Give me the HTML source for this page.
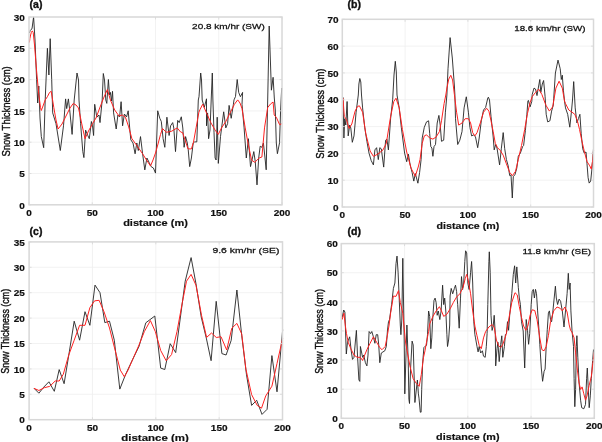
<!DOCTYPE html>
<html><head><meta charset="utf-8"><style>
html,body{margin:0;padding:0;background:#fff;width:602px;height:442px;overflow:hidden}
svg{display:block;will-change:transform}
text{font-family:"Liberation Sans",sans-serif;fill:#111}
</style></head><body>
<svg width="602" height="442" viewBox="0 0 602 442">
<line x1="92.25" y1="17.00" x2="92.25" y2="204.80" stroke="#efefef" stroke-width="0.8"/>
<line x1="155.50" y1="17.00" x2="155.50" y2="204.80" stroke="#efefef" stroke-width="0.8"/>
<line x1="218.75" y1="17.00" x2="218.75" y2="204.80" stroke="#efefef" stroke-width="0.8"/>
<line x1="29.00" y1="173.50" x2="282.00" y2="173.50" stroke="#efefef" stroke-width="0.8"/>
<line x1="29.00" y1="142.20" x2="282.00" y2="142.20" stroke="#efefef" stroke-width="0.8"/>
<line x1="29.00" y1="110.90" x2="282.00" y2="110.90" stroke="#efefef" stroke-width="0.8"/>
<line x1="29.00" y1="79.60" x2="282.00" y2="79.60" stroke="#efefef" stroke-width="0.8"/>
<line x1="29.00" y1="48.30" x2="282.00" y2="48.30" stroke="#efefef" stroke-width="0.8"/>
<polyline points="29.4,33.0 30.2,30.5 31.0,29.5 32.0,28.8 33.6,16.9 35.0,40.0 36.6,79.5 37.7,103.0 38.8,86.0 40.0,118.0 41.3,136.6 43.7,147.7 45.2,100.0 47.4,48.3 48.9,75.0 50.2,38.7 51.7,79.5 52.7,112.9 56.0,123.7 60.3,150.5 63.5,125.8 65.6,98.9 66.7,108.6 68.4,98.9 70.0,113.0 72.1,134.4 74.2,100.0 77.0,73.0 78.5,80.0 79.0,100.0 80.6,123.7 82.8,151.6 83.9,157.6 85.6,130.1 87.8,135.5 89.3,138.7 91.4,121.5 92.5,125.8 93.6,135.5 94.7,104.3 96.8,117.2 99.0,115.0 100.0,122.6 102.2,100.0 103.3,73.5 104.5,80.0 105.8,100.0 106.8,103.4 108.4,79.5 109.5,95.0 110.4,92.4 111.5,101.0 112.5,91.3 113.6,112.9 116.2,129.0 117.9,115.0 119.6,117.0 121.1,101.7 122.6,125.8 124.4,114.0 126.5,117.0 128.2,110.8 129.7,128.0 130.8,139.8 133.0,143.0 135.1,153.8 136.8,143.0 138.3,150.5 140.5,136.6 142.6,153.8 144.8,169.9 146.9,158.0 149.1,162.4 151.2,166.7 153.4,168.0 155.5,173.1 157.7,110.8 159.8,118.3 161.3,121.5 163.1,138.7 164.8,147.3 166.9,117.2 169.1,135.5 170.6,125.8 172.7,122.6 173.8,128.0 175.5,151.6 177.7,120.4 179.2,122.6 181.3,116.8 182.8,128.0 184.1,147.3 185.6,136.6 187.3,143.0 188.2,149.4 189.7,166.6 191.4,158.0 193.2,143.0 194.7,141.9 196.8,141.9 198.3,100.0 199.0,96.7 200.7,73.0 201.5,80.0 202.2,100.0 204.3,107.4 206.5,98.8 206.5,125.8 207.6,112.9 208.6,138.7 210.0,130.0 211.2,100.0 212.3,73.0 212.9,100.0 214.0,132.2 215.1,158.0 216.1,160.0 217.2,117.2 218.3,163.4 220.5,136.5 223.7,111.8 225.8,127.9 227.6,123.6 229.1,105.4 231.2,118.3 233.4,104.3 234.0,99.9 235.5,96.5 237.2,79.5 238.7,92.4 240.4,96.7 242.6,92.4 242.0,104.3 244.1,127.9 246.3,158.0 248.4,138.7 250.5,166.6 252.0,160.0 253.8,151.6 255.3,162.0 257.0,184.9 258.7,158.0 260.2,146.2 261.9,147.3 263.4,143.0 265.0,158.0 266.2,169.8 267.7,100.0 269.2,26.0 270.5,64.0 271.4,90.2 273.1,77.3 274.3,98.0 275.3,110.0 276.3,143.0 277.4,153.7 279.5,143.0 280.6,110.7 281.7,88.0" fill="none" stroke="#242424" stroke-width="0.9" stroke-linejoin="round"/>
<polyline points="29.4,42.5 29.9,38.5 30.6,35.0 31.4,32.3 32.3,30.9 33.2,32.5 34.5,45.0 36.6,70.9 38.8,94.6 40.5,107.5 41.3,110.5 43.0,106.0 45.2,100.0 47.4,96.7 49.5,92.5 51.2,91.3 53.8,107.5 56.0,120.0 58.1,129.0 62.0,124.0 66.0,116.0 70.0,108.0 73.2,103.5 76.0,105.0 78.5,108.0 82.0,125.0 85.0,138.7 88.5,131.0 92.5,123.7 96.0,118.0 101.1,104.3 104.0,97.0 107.4,89.5 110.4,100.0 114.7,110.0 119.0,116.0 122.2,115.0 125.4,117.2 128.7,126.9 131.9,138.7 137.3,146.2 142.6,153.8 146.5,160.0 150.5,166.0 153.0,160.0 155.5,153.0 158.0,144.0 160.5,134.5 162.5,128.5 166.3,132.3 171.7,131.2 177.2,127.9 180.6,132.0 182.6,132.6 185.3,140.8 188.0,148.9 191.4,148.9 193.5,142.1 196.2,127.2 198.9,112.2 200.0,109.6 202.7,104.2 206.5,112.9 210.8,122.6 215.1,130.1 218.3,134.4 221.5,127.9 225.8,121.5 230.1,112.9 234.4,104.3 237.7,99.9 240.0,103.0 242.0,108.6 245.2,127.9 248.4,145.1 251.6,160.2 254.8,162.3 259.1,158.0 261.9,157.0 264.5,127.9 267.7,107.5 270.5,104.0 273.1,102.0 274.2,115.0 276.3,117.2 279.6,124.7 282.0,123.6" fill="none" stroke="#ff2020" stroke-width="1.0" stroke-linejoin="round"/>
<rect x="29.00" y="17.00" width="253.00" height="187.80" fill="none" stroke="#d8d8d8" stroke-width="1.5"/>
<line x1="29.00" y1="204.80" x2="29.00" y2="202.30" stroke="#d8d8d8" stroke-width="0.8"/>
<line x1="29.00" y1="17.00" x2="29.00" y2="19.50" stroke="#d8d8d8" stroke-width="0.8"/>
<text transform="translate(29.00,215.80) scale(1.0,0.92)" font-size="10.0" font-weight="bold" text-anchor="middle" stroke="#111" stroke-width="0.2">0</text>
<line x1="92.25" y1="204.80" x2="92.25" y2="202.30" stroke="#d8d8d8" stroke-width="0.8"/>
<line x1="92.25" y1="17.00" x2="92.25" y2="19.50" stroke="#d8d8d8" stroke-width="0.8"/>
<text transform="translate(92.25,215.80) scale(1.0,0.92)" font-size="10.0" font-weight="bold" text-anchor="middle" stroke="#111" stroke-width="0.2">50</text>
<line x1="155.50" y1="204.80" x2="155.50" y2="202.30" stroke="#d8d8d8" stroke-width="0.8"/>
<line x1="155.50" y1="17.00" x2="155.50" y2="19.50" stroke="#d8d8d8" stroke-width="0.8"/>
<text transform="translate(155.50,215.80) scale(1.0,0.92)" font-size="10.0" font-weight="bold" text-anchor="middle" stroke="#111" stroke-width="0.2">100</text>
<line x1="218.75" y1="204.80" x2="218.75" y2="202.30" stroke="#d8d8d8" stroke-width="0.8"/>
<line x1="218.75" y1="17.00" x2="218.75" y2="19.50" stroke="#d8d8d8" stroke-width="0.8"/>
<text transform="translate(218.75,215.80) scale(1.0,0.92)" font-size="10.0" font-weight="bold" text-anchor="middle" stroke="#111" stroke-width="0.2">150</text>
<line x1="282.00" y1="204.80" x2="282.00" y2="202.30" stroke="#d8d8d8" stroke-width="0.8"/>
<line x1="282.00" y1="17.00" x2="282.00" y2="19.50" stroke="#d8d8d8" stroke-width="0.8"/>
<text transform="translate(282.00,215.80) scale(1.0,0.92)" font-size="10.0" font-weight="bold" text-anchor="middle" stroke="#111" stroke-width="0.2">200</text>
<line x1="29.00" y1="204.80" x2="31.50" y2="204.80" stroke="#d8d8d8" stroke-width="0.8"/>
<line x1="282.00" y1="204.80" x2="279.50" y2="204.80" stroke="#d8d8d8" stroke-width="0.8"/>
<text transform="translate(24.80,208.50) scale(1.0,0.92)" font-size="10.0" font-weight="bold" text-anchor="end" stroke="#111" stroke-width="0.2">0</text>
<line x1="29.00" y1="173.50" x2="31.50" y2="173.50" stroke="#d8d8d8" stroke-width="0.8"/>
<line x1="282.00" y1="173.50" x2="279.50" y2="173.50" stroke="#d8d8d8" stroke-width="0.8"/>
<text transform="translate(24.80,177.20) scale(1.0,0.92)" font-size="10.0" font-weight="bold" text-anchor="end" stroke="#111" stroke-width="0.2">5</text>
<line x1="29.00" y1="142.20" x2="31.50" y2="142.20" stroke="#d8d8d8" stroke-width="0.8"/>
<line x1="282.00" y1="142.20" x2="279.50" y2="142.20" stroke="#d8d8d8" stroke-width="0.8"/>
<text transform="translate(24.80,145.90) scale(1.0,0.92)" font-size="10.0" font-weight="bold" text-anchor="end" stroke="#111" stroke-width="0.2">10</text>
<line x1="29.00" y1="110.90" x2="31.50" y2="110.90" stroke="#d8d8d8" stroke-width="0.8"/>
<line x1="282.00" y1="110.90" x2="279.50" y2="110.90" stroke="#d8d8d8" stroke-width="0.8"/>
<text transform="translate(24.80,114.60) scale(1.0,0.92)" font-size="10.0" font-weight="bold" text-anchor="end" stroke="#111" stroke-width="0.2">15</text>
<line x1="29.00" y1="79.60" x2="31.50" y2="79.60" stroke="#d8d8d8" stroke-width="0.8"/>
<line x1="282.00" y1="79.60" x2="279.50" y2="79.60" stroke="#d8d8d8" stroke-width="0.8"/>
<text transform="translate(24.80,83.30) scale(1.0,0.92)" font-size="10.0" font-weight="bold" text-anchor="end" stroke="#111" stroke-width="0.2">20</text>
<line x1="29.00" y1="48.30" x2="31.50" y2="48.30" stroke="#d8d8d8" stroke-width="0.8"/>
<line x1="282.00" y1="48.30" x2="279.50" y2="48.30" stroke="#d8d8d8" stroke-width="0.8"/>
<text transform="translate(24.80,52.00) scale(1.0,0.92)" font-size="10.0" font-weight="bold" text-anchor="end" stroke="#111" stroke-width="0.2">25</text>
<line x1="29.00" y1="17.00" x2="31.50" y2="17.00" stroke="#d8d8d8" stroke-width="0.8"/>
<line x1="282.00" y1="17.00" x2="279.50" y2="17.00" stroke="#d8d8d8" stroke-width="0.8"/>
<text transform="translate(24.80,20.70) scale(1.0,0.92)" font-size="10.0" font-weight="bold" text-anchor="end" stroke="#111" stroke-width="0.2">30</text>
<text transform="translate(155.50,226.10) scale(1.0,0.78)" font-size="11.0" font-weight="bold" text-anchor="middle" stroke="#111" stroke-width="0.2">distance (m)</text>
<text transform="translate(10.20,111.40) scale(1.05,0.86) rotate(-90)" font-size="11.0" font-weight="normal" text-anchor="middle" stroke="#111" stroke-width="0.4">Snow Thickness (cm)</text>
<text transform="translate(29.60,7.80) scale(1.0,1.0)" font-size="10.5" font-weight="bold" text-anchor="start" stroke="#111" stroke-width="0.35">(a)</text>
<text transform="translate(264.80,28.60) scale(1.0,0.8)" font-size="10.0" font-weight="normal" text-anchor="end" stroke="#111" stroke-width="0.32">20.8 km/hr (SW)</text>
<line x1="405.10" y1="19.30" x2="405.10" y2="207.00" stroke="#efefef" stroke-width="0.8"/>
<line x1="467.90" y1="19.30" x2="467.90" y2="207.00" stroke="#efefef" stroke-width="0.8"/>
<line x1="530.70" y1="19.30" x2="530.70" y2="207.00" stroke="#efefef" stroke-width="0.8"/>
<line x1="342.30" y1="180.19" x2="593.50" y2="180.19" stroke="#efefef" stroke-width="0.8"/>
<line x1="342.30" y1="153.37" x2="593.50" y2="153.37" stroke="#efefef" stroke-width="0.8"/>
<line x1="342.30" y1="126.56" x2="593.50" y2="126.56" stroke="#efefef" stroke-width="0.8"/>
<line x1="342.30" y1="99.74" x2="593.50" y2="99.74" stroke="#efefef" stroke-width="0.8"/>
<line x1="342.30" y1="72.93" x2="593.50" y2="72.93" stroke="#efefef" stroke-width="0.8"/>
<line x1="342.30" y1="46.11" x2="593.50" y2="46.11" stroke="#efefef" stroke-width="0.8"/>
<polyline points="343.0,97.2 343.9,138.0 344.7,118.7 345.8,125.0 347.1,101.5 348.2,135.9 349.7,125.1 350.8,128.0 352.3,142.3 354.0,135.9 356.1,112.2 358.3,95.0 358.9,84.0 359.8,78.5 360.8,82.0 361.5,95.0 362.6,107.9 364.7,127.3 366.9,141.3 369.0,153.1 371.2,160.6 373.4,164.9 374.9,149.9 376.6,147.7 378.3,159.6 379.8,147.7 381.3,148.8 383.7,167.1 385.6,140.2 386.9,139.1 388.4,149.9 390.6,118.7 392.7,99.3 394.0,75.0 395.3,61.3 396.3,72.0 397.0,95.0 399.2,107.9 401.3,127.3 404.6,153.1 406.7,161.7 408.4,154.2 410.0,164.0 412.1,172.5 413.8,181.1 415.3,173.5 417.9,183.2 419.6,172.5 421.1,159.6 422.2,138.0 424.3,127.3 426.5,121.9 428.6,120.8 429.7,133.7 430.8,146.6 431.9,148.0 432.9,156.3 434.0,146.6 435.5,144.5 437.2,123.0 438.9,115.4 440.2,125.0 441.5,141.3 443.7,140.2 445.4,112.2 446.9,95.0 448.0,68.8 450.1,37.6 452.3,58.0 454.4,86.0 454.9,95.0 455.5,118.7 457.7,144.5 459.8,140.2 462.0,131.6 464.1,107.9 466.3,96.8 468.4,112.2 469.9,127.3 471.6,135.9 473.8,134.8 475.5,137.0 477.7,147.7 479.2,138.0 481.3,120.8 483.5,110.1 485.6,107.5 487.8,98.0 488.4,97.2 489.5,100.0 491.0,116.5 493.2,137.0 494.2,149.9 495.7,144.5 497.0,148.0 499.6,164.9 501.3,148.8 503.2,132.6 504.7,148.7 506.4,159.5 508.2,165.9 509.7,175.6 511.0,175.0 512.3,198.0 513.3,176.7 515.0,174.5 516.8,168.1 518.3,156.3 520.4,153.0 522.6,146.6 523.6,145.5 525.4,130.5 526.9,114.3 527.9,101.0 528.4,100.4 530.1,106.8 531.8,101.4 532.2,94.5 534.0,88.1 535.5,89.0 537.0,95.6 538.3,88.0 539.8,79.5 540.8,92.4 542.3,84.0 543.6,80.5 545.1,96.7 546.2,114.3 547.7,121.9 549.9,120.8 551.6,111.1 553.3,105.0 553.7,98.8 555.4,73.0 558.0,60.1 560.2,68.7 561.3,79.5 562.3,75.2 563.4,90.2 564.5,101.0 565.5,107.9 567.7,114.3 569.8,127.2 571.6,110.0 572.5,100.0 573.7,81.6 575.2,107.9 576.9,122.9 578.4,118.6 579.9,114.3 581.2,133.7 582.7,148.7 584.2,153.0 586.0,152.0 587.0,163.8 588.1,177.7 589.2,183.1 590.7,181.0 592.0,168.1 593.5,148.7" fill="none" stroke="#242424" stroke-width="0.9" stroke-linejoin="round"/>
<polyline points="343.0,98.0 344.3,116.5 346.5,119.7 349.0,128.4 351.8,124.0 355.1,111.1 357.5,106.5 359.4,105.8 362.6,112.2 365.8,133.7 370.1,151.0 373.4,156.3 377.7,154.2 383.0,149.9 386.3,143.4 390.6,116.5 393.8,101.5 396.0,98.2 399.2,107.9 402.4,129.4 406.7,152.0 411.0,168.2 415.3,176.3 418.5,166.0 420.0,159.6 422.2,143.4 424.3,135.9 426.5,134.8 429.7,138.0 432.9,139.1 436.1,137.0 439.4,131.6 441.5,120.8 444.1,103.6 445.8,95.0 446.9,88.0 448.8,79.0 450.8,75.3 452.6,80.0 454.4,94.6 456.6,112.2 458.7,125.1 462.0,123.0 465.2,118.7 468.4,118.7 470.6,123.0 472.7,132.7 474.9,135.9 477.0,132.7 480.3,123.0 483.5,112.2 486.7,108.3 488.9,111.1 491.0,120.8 493.2,131.6 495.3,143.4 497.5,147.7 500.3,150.5 503.2,155.2 506.4,163.8 509.7,172.4 512.5,175.6 515.5,171.3 518.3,159.5 521.5,145.5 524.7,129.4 527.5,113.3 530.1,102.5 532.2,96.7 535.5,92.4 538.7,89.1 541.9,94.5 545.1,103.1 546.2,105.7 549.4,111.1 552.7,106.8 555.9,88.1 559.1,81.2 562.3,88.1 564.5,101.0 565.5,103.6 568.8,110.0 572.0,112.2 574.8,114.3 577.4,120.8 579.5,129.4 581.7,140.1 584.2,150.9 587.0,161.6 589.8,165.9 591.3,169.1 592.8,159.5 593.6,150.0" fill="none" stroke="#ff2020" stroke-width="1.0" stroke-linejoin="round"/>
<rect x="342.30" y="19.30" width="251.20" height="187.70" fill="none" stroke="#d8d8d8" stroke-width="1.5"/>
<line x1="342.30" y1="207.00" x2="342.30" y2="204.50" stroke="#d8d8d8" stroke-width="0.8"/>
<line x1="342.30" y1="19.30" x2="342.30" y2="21.80" stroke="#d8d8d8" stroke-width="0.8"/>
<text transform="translate(342.30,218.00) scale(1.0,0.92)" font-size="10.0" font-weight="bold" text-anchor="middle" stroke="#111" stroke-width="0.2">0</text>
<line x1="405.10" y1="207.00" x2="405.10" y2="204.50" stroke="#d8d8d8" stroke-width="0.8"/>
<line x1="405.10" y1="19.30" x2="405.10" y2="21.80" stroke="#d8d8d8" stroke-width="0.8"/>
<text transform="translate(405.10,218.00) scale(1.0,0.92)" font-size="10.0" font-weight="bold" text-anchor="middle" stroke="#111" stroke-width="0.2">50</text>
<line x1="467.90" y1="207.00" x2="467.90" y2="204.50" stroke="#d8d8d8" stroke-width="0.8"/>
<line x1="467.90" y1="19.30" x2="467.90" y2="21.80" stroke="#d8d8d8" stroke-width="0.8"/>
<text transform="translate(467.90,218.00) scale(1.0,0.92)" font-size="10.0" font-weight="bold" text-anchor="middle" stroke="#111" stroke-width="0.2">100</text>
<line x1="530.70" y1="207.00" x2="530.70" y2="204.50" stroke="#d8d8d8" stroke-width="0.8"/>
<line x1="530.70" y1="19.30" x2="530.70" y2="21.80" stroke="#d8d8d8" stroke-width="0.8"/>
<text transform="translate(530.70,218.00) scale(1.0,0.92)" font-size="10.0" font-weight="bold" text-anchor="middle" stroke="#111" stroke-width="0.2">150</text>
<line x1="593.50" y1="207.00" x2="593.50" y2="204.50" stroke="#d8d8d8" stroke-width="0.8"/>
<line x1="593.50" y1="19.30" x2="593.50" y2="21.80" stroke="#d8d8d8" stroke-width="0.8"/>
<text transform="translate(593.50,218.00) scale(1.0,0.92)" font-size="10.0" font-weight="bold" text-anchor="middle" stroke="#111" stroke-width="0.2">200</text>
<line x1="342.30" y1="207.00" x2="344.80" y2="207.00" stroke="#d8d8d8" stroke-width="0.8"/>
<line x1="593.50" y1="207.00" x2="591.00" y2="207.00" stroke="#d8d8d8" stroke-width="0.8"/>
<text transform="translate(338.50,210.70) scale(1.0,0.92)" font-size="10.0" font-weight="bold" text-anchor="end" stroke="#111" stroke-width="0.2">0</text>
<line x1="342.30" y1="180.19" x2="344.80" y2="180.19" stroke="#d8d8d8" stroke-width="0.8"/>
<line x1="593.50" y1="180.19" x2="591.00" y2="180.19" stroke="#d8d8d8" stroke-width="0.8"/>
<text transform="translate(338.50,183.89) scale(1.0,0.92)" font-size="10.0" font-weight="bold" text-anchor="end" stroke="#111" stroke-width="0.2">10</text>
<line x1="342.30" y1="153.37" x2="344.80" y2="153.37" stroke="#d8d8d8" stroke-width="0.8"/>
<line x1="593.50" y1="153.37" x2="591.00" y2="153.37" stroke="#d8d8d8" stroke-width="0.8"/>
<text transform="translate(338.50,157.07) scale(1.0,0.92)" font-size="10.0" font-weight="bold" text-anchor="end" stroke="#111" stroke-width="0.2">20</text>
<line x1="342.30" y1="126.56" x2="344.80" y2="126.56" stroke="#d8d8d8" stroke-width="0.8"/>
<line x1="593.50" y1="126.56" x2="591.00" y2="126.56" stroke="#d8d8d8" stroke-width="0.8"/>
<text transform="translate(338.50,130.26) scale(1.0,0.92)" font-size="10.0" font-weight="bold" text-anchor="end" stroke="#111" stroke-width="0.2">30</text>
<line x1="342.30" y1="99.74" x2="344.80" y2="99.74" stroke="#d8d8d8" stroke-width="0.8"/>
<line x1="593.50" y1="99.74" x2="591.00" y2="99.74" stroke="#d8d8d8" stroke-width="0.8"/>
<text transform="translate(338.50,103.44) scale(1.0,0.92)" font-size="10.0" font-weight="bold" text-anchor="end" stroke="#111" stroke-width="0.2">40</text>
<line x1="342.30" y1="72.93" x2="344.80" y2="72.93" stroke="#d8d8d8" stroke-width="0.8"/>
<line x1="593.50" y1="72.93" x2="591.00" y2="72.93" stroke="#d8d8d8" stroke-width="0.8"/>
<text transform="translate(338.50,76.63) scale(1.0,0.92)" font-size="10.0" font-weight="bold" text-anchor="end" stroke="#111" stroke-width="0.2">50</text>
<line x1="342.30" y1="46.11" x2="344.80" y2="46.11" stroke="#d8d8d8" stroke-width="0.8"/>
<line x1="593.50" y1="46.11" x2="591.00" y2="46.11" stroke="#d8d8d8" stroke-width="0.8"/>
<text transform="translate(338.50,49.81) scale(1.0,0.92)" font-size="10.0" font-weight="bold" text-anchor="end" stroke="#111" stroke-width="0.2">60</text>
<line x1="342.30" y1="19.30" x2="344.80" y2="19.30" stroke="#d8d8d8" stroke-width="0.8"/>
<line x1="593.50" y1="19.30" x2="591.00" y2="19.30" stroke="#d8d8d8" stroke-width="0.8"/>
<text transform="translate(338.50,23.00) scale(1.0,0.92)" font-size="10.0" font-weight="bold" text-anchor="end" stroke="#111" stroke-width="0.2">70</text>
<text transform="translate(467.90,229.00) scale(0.97,0.78)" font-size="11.0" font-weight="bold" text-anchor="middle" stroke="#111" stroke-width="0.2">distance (m)</text>
<text transform="translate(323.70,113.65) scale(1.05,0.86) rotate(-90)" font-size="11.0" font-weight="normal" text-anchor="middle" stroke="#111" stroke-width="0.4">Snow Thickness (cm)</text>
<text transform="translate(347.60,7.80) scale(1.0,1.0)" font-size="10.5" font-weight="bold" text-anchor="start" stroke="#111" stroke-width="0.35">(b)</text>
<text transform="translate(585.50,30.60) scale(0.98,0.8)" font-size="10.0" font-weight="normal" text-anchor="end" stroke="#111" stroke-width="0.32">18.6 km/hr (SW)</text>
<line x1="92.45" y1="241.90" x2="92.45" y2="419.70" stroke="#efefef" stroke-width="0.8"/>
<line x1="155.80" y1="241.90" x2="155.80" y2="419.70" stroke="#efefef" stroke-width="0.8"/>
<line x1="219.15" y1="241.90" x2="219.15" y2="419.70" stroke="#efefef" stroke-width="0.8"/>
<line x1="29.10" y1="394.30" x2="282.50" y2="394.30" stroke="#efefef" stroke-width="0.8"/>
<line x1="29.10" y1="368.90" x2="282.50" y2="368.90" stroke="#efefef" stroke-width="0.8"/>
<line x1="29.10" y1="343.50" x2="282.50" y2="343.50" stroke="#efefef" stroke-width="0.8"/>
<line x1="29.10" y1="318.10" x2="282.50" y2="318.10" stroke="#efefef" stroke-width="0.8"/>
<line x1="29.10" y1="292.70" x2="282.50" y2="292.70" stroke="#efefef" stroke-width="0.8"/>
<line x1="29.10" y1="267.30" x2="282.50" y2="267.30" stroke="#efefef" stroke-width="0.8"/>
<polyline points="34.0,388.3 38.9,393.2 43.7,387.2 48.9,381.8 54.3,391.3 59.2,369.6 64.1,383.7 69.3,351.9 74.2,321.2 79.6,340.2 85.0,311.7 89.9,325.3 95.0,285.1 100.0,292.7 104.8,322.6 109.5,321.2 114.3,340.2 119.8,389.1 125.7,374.2 132.4,360.0 139.0,346.4 145.8,322.8 154.8,316.0 160.7,368.1 164.8,369.5 170.2,343.7 175.7,352.6 185.2,281.2 191.1,257.6 196.0,283.9 201.2,316.9 206.3,338.1 211.1,360.7 216.2,301.3 221.9,353.6 226.1,355.0 231.2,340.3 236.9,290.0 241.7,335.2 246.5,374.8 251.6,405.4 256.7,400.3 262.0,414.4 267.1,409.3 271.9,355.6 277.0,391.8 282.7,329.6" fill="none" stroke="#242424" stroke-width="0.9" stroke-linejoin="round"/>
<polyline points="34.0,388.3 38.9,390.5 44.3,387.7 49.7,386.4 55.2,381.0 59.2,381.0 63.3,374.2 68.7,355.2 74.2,340.2 79.6,325.3 85.0,325.3 89.9,307.6 94.5,300.9 99.1,300.3 104.0,311.7 109.5,328.0 114.3,347.0 120.3,370.1 124.4,376.9 128.1,370.0 133.5,357.5 139.0,345.0 144.4,331.5 150.4,320.6 155.3,331.5 160.7,350.5 166.2,360.8 171.6,354.5 177.0,331.5 182.5,301.6 186.5,281.2 191.1,274.4 196.0,285.3 201.5,315.2 206.6,337.4 211.5,333.0 216.3,337.5 221.0,336.7 226.7,350.0 231.8,328.2 236.9,323.4 241.7,333.8 245.9,369.2 251.6,394.6 257.2,405.4 261.5,408.2 265.7,396.0 271.9,386.2 277.0,363.5 282.7,338.1" fill="none" stroke="#ff2020" stroke-width="1.0" stroke-linejoin="round"/>
<rect x="29.10" y="241.90" width="253.40" height="177.80" fill="none" stroke="#d8d8d8" stroke-width="1.5"/>
<line x1="29.10" y1="419.70" x2="29.10" y2="417.20" stroke="#d8d8d8" stroke-width="0.8"/>
<line x1="29.10" y1="241.90" x2="29.10" y2="244.40" stroke="#d8d8d8" stroke-width="0.8"/>
<text transform="translate(29.10,430.70) scale(1.0,0.92)" font-size="10.0" font-weight="bold" text-anchor="middle" stroke="#111" stroke-width="0.2">0</text>
<line x1="92.45" y1="419.70" x2="92.45" y2="417.20" stroke="#d8d8d8" stroke-width="0.8"/>
<line x1="92.45" y1="241.90" x2="92.45" y2="244.40" stroke="#d8d8d8" stroke-width="0.8"/>
<text transform="translate(92.45,430.70) scale(1.0,0.92)" font-size="10.0" font-weight="bold" text-anchor="middle" stroke="#111" stroke-width="0.2">50</text>
<line x1="155.80" y1="419.70" x2="155.80" y2="417.20" stroke="#d8d8d8" stroke-width="0.8"/>
<line x1="155.80" y1="241.90" x2="155.80" y2="244.40" stroke="#d8d8d8" stroke-width="0.8"/>
<text transform="translate(155.80,430.70) scale(1.0,0.92)" font-size="10.0" font-weight="bold" text-anchor="middle" stroke="#111" stroke-width="0.2">100</text>
<line x1="219.15" y1="419.70" x2="219.15" y2="417.20" stroke="#d8d8d8" stroke-width="0.8"/>
<line x1="219.15" y1="241.90" x2="219.15" y2="244.40" stroke="#d8d8d8" stroke-width="0.8"/>
<text transform="translate(219.15,430.70) scale(1.0,0.92)" font-size="10.0" font-weight="bold" text-anchor="middle" stroke="#111" stroke-width="0.2">150</text>
<line x1="282.50" y1="419.70" x2="282.50" y2="417.20" stroke="#d8d8d8" stroke-width="0.8"/>
<line x1="282.50" y1="241.90" x2="282.50" y2="244.40" stroke="#d8d8d8" stroke-width="0.8"/>
<text transform="translate(282.50,430.70) scale(1.0,0.92)" font-size="10.0" font-weight="bold" text-anchor="middle" stroke="#111" stroke-width="0.2">200</text>
<line x1="29.10" y1="419.70" x2="31.60" y2="419.70" stroke="#d8d8d8" stroke-width="0.8"/>
<line x1="282.50" y1="419.70" x2="280.00" y2="419.70" stroke="#d8d8d8" stroke-width="0.8"/>
<text transform="translate(24.90,423.40) scale(1.0,0.92)" font-size="10.0" font-weight="bold" text-anchor="end" stroke="#111" stroke-width="0.2">0</text>
<line x1="29.10" y1="394.30" x2="31.60" y2="394.30" stroke="#d8d8d8" stroke-width="0.8"/>
<line x1="282.50" y1="394.30" x2="280.00" y2="394.30" stroke="#d8d8d8" stroke-width="0.8"/>
<text transform="translate(24.90,398.00) scale(1.0,0.92)" font-size="10.0" font-weight="bold" text-anchor="end" stroke="#111" stroke-width="0.2">5</text>
<line x1="29.10" y1="368.90" x2="31.60" y2="368.90" stroke="#d8d8d8" stroke-width="0.8"/>
<line x1="282.50" y1="368.90" x2="280.00" y2="368.90" stroke="#d8d8d8" stroke-width="0.8"/>
<text transform="translate(24.90,372.60) scale(1.0,0.92)" font-size="10.0" font-weight="bold" text-anchor="end" stroke="#111" stroke-width="0.2">10</text>
<line x1="29.10" y1="343.50" x2="31.60" y2="343.50" stroke="#d8d8d8" stroke-width="0.8"/>
<line x1="282.50" y1="343.50" x2="280.00" y2="343.50" stroke="#d8d8d8" stroke-width="0.8"/>
<text transform="translate(24.90,347.20) scale(1.0,0.92)" font-size="10.0" font-weight="bold" text-anchor="end" stroke="#111" stroke-width="0.2">15</text>
<line x1="29.10" y1="318.10" x2="31.60" y2="318.10" stroke="#d8d8d8" stroke-width="0.8"/>
<line x1="282.50" y1="318.10" x2="280.00" y2="318.10" stroke="#d8d8d8" stroke-width="0.8"/>
<text transform="translate(24.90,321.80) scale(1.0,0.92)" font-size="10.0" font-weight="bold" text-anchor="end" stroke="#111" stroke-width="0.2">20</text>
<line x1="29.10" y1="292.70" x2="31.60" y2="292.70" stroke="#d8d8d8" stroke-width="0.8"/>
<line x1="282.50" y1="292.70" x2="280.00" y2="292.70" stroke="#d8d8d8" stroke-width="0.8"/>
<text transform="translate(24.90,296.40) scale(1.0,0.92)" font-size="10.0" font-weight="bold" text-anchor="end" stroke="#111" stroke-width="0.2">25</text>
<line x1="29.10" y1="267.30" x2="31.60" y2="267.30" stroke="#d8d8d8" stroke-width="0.8"/>
<line x1="282.50" y1="267.30" x2="280.00" y2="267.30" stroke="#d8d8d8" stroke-width="0.8"/>
<text transform="translate(24.90,271.00) scale(1.0,0.92)" font-size="10.0" font-weight="bold" text-anchor="end" stroke="#111" stroke-width="0.2">30</text>
<line x1="29.10" y1="241.90" x2="31.60" y2="241.90" stroke="#d8d8d8" stroke-width="0.8"/>
<line x1="282.50" y1="241.90" x2="280.00" y2="241.90" stroke="#d8d8d8" stroke-width="0.8"/>
<text transform="translate(24.90,245.60) scale(1.0,0.92)" font-size="10.0" font-weight="bold" text-anchor="end" stroke="#111" stroke-width="0.2">35</text>
<text transform="translate(155.05,440.90) scale(1.045,0.78)" font-size="11.0" font-weight="bold" text-anchor="middle" stroke="#111" stroke-width="0.2">distance (m)</text>
<text transform="translate(9.10,331.30) scale(1.05,0.81) rotate(-90)" font-size="11.0" font-weight="normal" text-anchor="middle" stroke="#111" stroke-width="0.4">Snow Thickness (cm)</text>
<text transform="translate(29.60,234.80) scale(1.0,1.0)" font-size="10.5" font-weight="bold" text-anchor="start" stroke="#111" stroke-width="0.35">(c)</text>
<text transform="translate(279.40,253.10) scale(1.04,0.8)" font-size="10.0" font-weight="normal" text-anchor="end" stroke="#111" stroke-width="0.32">9.6 km/hr (SE)</text>
<line x1="404.55" y1="243.60" x2="404.55" y2="418.30" stroke="#efefef" stroke-width="0.8"/>
<line x1="467.80" y1="243.60" x2="467.80" y2="418.30" stroke="#efefef" stroke-width="0.8"/>
<line x1="531.05" y1="243.60" x2="531.05" y2="418.30" stroke="#efefef" stroke-width="0.8"/>
<line x1="341.30" y1="389.18" x2="594.30" y2="389.18" stroke="#efefef" stroke-width="0.8"/>
<line x1="341.30" y1="360.07" x2="594.30" y2="360.07" stroke="#efefef" stroke-width="0.8"/>
<line x1="341.30" y1="330.95" x2="594.30" y2="330.95" stroke="#efefef" stroke-width="0.8"/>
<line x1="341.30" y1="301.83" x2="594.30" y2="301.83" stroke="#efefef" stroke-width="0.8"/>
<line x1="341.30" y1="272.72" x2="594.30" y2="272.72" stroke="#efefef" stroke-width="0.8"/>
<polyline points="342.2,317.5 343.7,310.0 344.9,312.0 345.5,330.0 346.3,354.0 347.5,342.2 349.7,336.8 351.2,350.8 352.5,359.4 354.0,357.3 355.5,340.0 356.4,330.4 357.6,357.3 358.9,379.9 359.8,381.4 360.4,346.5 361.5,352.0 362.6,357.3 363.7,355.1 365.4,362.7 366.9,365.9 368.0,355.1 369.1,331.5 370.6,333.6 371.8,331.5 373.4,336.8 374.9,343.3 376.2,334.7 377.7,334.7 378.7,344.4 379.8,362.7 381.3,353.0 383.0,351.9 384.8,350.8 386.3,346.5 387.5,330.0 388.5,321.8 389.5,319.6 391.6,304.6 393.4,288.4 394.9,283.0 396.0,263.7 397.0,256.1 398.1,272.3 399.2,298.1 400.3,325.0 400.9,334.7 401.8,320.0 402.8,258.3 403.5,300.0 404.2,340.0 404.8,393.9 405.6,368.0 406.9,325.0 408.2,360.0 408.9,399.2 409.5,403.5 410.5,370.0 412.1,341.1 413.2,345.0 414.9,402.5 417.4,380.0 418.4,393.9 419.0,398.2 420.3,412.2 421.1,412.2 421.7,389.6 422.6,363.7 423.9,347.6 425.4,346.1 426.5,345.4 427.5,334.7 428.6,311.0 429.7,316.4 430.8,348.7 431.8,337.9 432.5,321.8 434.0,300.3 435.1,298.1 436.1,302.4 437.2,315.3 438.3,311.0 439.8,319.6 441.1,311.0 442.6,285.2 443.7,304.6 444.7,298.1 445.8,311.0 446.9,334.7 447.5,346.5 448.6,340.0 449.7,325.0 450.1,296.0 451.2,288.4 452.7,293.8 454.4,288.4 455.5,285.2 456.6,291.6 457.7,304.6 459.2,328.2 460.5,298.1 461.5,276.6 462.6,289.5 463.7,283.0 464.8,261.5 465.6,250.8 466.7,252.9 467.8,283.0 469.1,289.5 470.6,272.3 471.6,261.5 472.7,283.0 473.8,321.8 474.9,334.7 475.5,337.9 477.0,346.5 478.1,351.9 479.2,346.5 480.7,353.0 482.4,350.8 483.5,356.2 485.2,357.3 486.3,346.5 487.1,333.6 487.8,304.6 488.9,261.5 489.3,251.8 490.2,272.3 491.0,315.3 492.1,330.4 493.2,326.1 494.2,315.3 495.3,334.7 495.7,365.9 497.0,348.7 497.9,342.2 499.2,361.6 500.7,344.4 501.8,335.8 502.8,357.3 504.4,346.5 505.4,334.6 506.4,333.6 507.5,321.7 508.6,330.3 509.7,315.2 511.8,293.7 513.3,274.4 514.6,265.8 515.7,283.0 516.8,266.9 518.3,287.3 519.3,298.0 520.4,304.5 521.5,321.7 523.2,331.0 524.7,368.0 526.2,319.5 527.5,330.3 528.6,344.3 529.7,333.6 531.2,304.5 532.2,291.6 533.3,289.4 534.4,298.0 535.5,289.4 536.5,293.7 537.6,310.9 538.7,326.0 539.8,344.3 541.3,368.0 542.6,381.3 544.1,371.2 545.1,369.1 546.2,346.5 547.3,329.3 548.4,313.1 549.4,310.9 550.5,319.5 551.6,321.7 552.7,313.1 554.2,298.0 555.4,286.2 556.3,298.0 557.6,304.5 559.1,299.1 560.6,301.3 562.3,310.9 564.0,327.0 565.5,310.9 567.1,293.7 568.3,273.3 569.2,289.4 570.1,283.0 570.9,310.9 572.0,330.3 572.4,334.7 573.5,346.5 574.1,378.7 574.8,406.7 575.6,389.5 576.3,346.5 576.9,335.7 577.8,357.2 579.1,383.0 580.6,400.2 581.7,407.7 583.8,408.8 585.5,404.5 586.6,378.7 587.3,368.0 588.1,385.2 589.2,407.7 590.3,395.9 591.3,378.7 592.4,363.7 593.5,349.7 594.3,351.9" fill="none" stroke="#242424" stroke-width="0.9" stroke-linejoin="round"/>
<polyline points="342.2,319.6 343.9,313.2 345.4,326.1 346.5,333.6 348.2,342.2 350.8,348.7 354.0,355.1 357.2,357.3 360.4,357.3 362.6,360.5 364.7,355.1 366.9,349.7 370.1,343.3 373.4,336.8 376.6,342.2 379.8,347.6 382.0,349.7 385.2,346.5 387.3,335.8 389.1,325.0 390.6,313.2 393.4,296.0 396.0,296.4 398.5,290.6 400.3,302.4 402.8,313.2 404.2,328.0 405.5,342.0 407.1,350.8 409.9,365.9 413.2,378.8 416.4,383.5 419.2,386.3 421.3,374.5 423.5,357.3 425.0,350.8 426.5,342.2 428.6,331.5 429.7,323.9 432.9,316.4 436.1,311.0 439.4,306.7 441.5,311.0 443.7,316.4 446.9,314.2 450.1,308.9 453.4,302.4 456.6,297.0 459.8,293.8 463.0,287.3 465.2,278.7 466.7,274.4 468.4,280.9 470.6,293.8 472.7,311.0 474.9,326.1 477.0,335.8 479.2,345.4 481.3,348.7 483.5,337.9 485.6,331.5 488.9,327.0 492.1,324.5 494.2,327.2 496.4,340.1 498.5,345.4 500.7,347.6 502.8,344.4 505.0,337.9 506.4,333.6 508.6,320.0 511.8,302.3 515.0,292.7 517.2,294.8 519.3,306.6 521.5,317.4 523.6,326.0 525.8,330.3 527.9,326.0 530.1,315.2 532.2,309.8 534.8,310.5 537.0,319.5 538.7,330.3 539.8,337.9 541.9,349.7 544.1,350.8 546.2,346.5 548.4,335.7 550.5,321.7 553.7,310.9 557.0,307.0 560.2,308.3 562.3,310.9 564.9,307.0 567.1,312.0 569.2,324.9 570.5,330.0 572.0,332.4 574.1,337.9 575.6,352.9 577.4,370.1 579.1,383.0 580.6,389.5 582.1,386.9 583.8,393.8 585.5,400.2 587.0,395.9 589.2,385.2 591.3,376.6 592.8,363.7 594.3,352.0" fill="none" stroke="#ff2020" stroke-width="1.0" stroke-linejoin="round"/>
<rect x="341.30" y="243.60" width="253.00" height="174.70" fill="none" stroke="#d8d8d8" stroke-width="1.5"/>
<line x1="341.30" y1="418.30" x2="341.30" y2="415.80" stroke="#d8d8d8" stroke-width="0.8"/>
<line x1="341.30" y1="243.60" x2="341.30" y2="246.10" stroke="#d8d8d8" stroke-width="0.8"/>
<text transform="translate(341.30,429.30) scale(1.0,0.92)" font-size="10.0" font-weight="bold" text-anchor="middle" stroke="#111" stroke-width="0.2">0</text>
<line x1="404.55" y1="418.30" x2="404.55" y2="415.80" stroke="#d8d8d8" stroke-width="0.8"/>
<line x1="404.55" y1="243.60" x2="404.55" y2="246.10" stroke="#d8d8d8" stroke-width="0.8"/>
<text transform="translate(404.55,429.30) scale(1.0,0.92)" font-size="10.0" font-weight="bold" text-anchor="middle" stroke="#111" stroke-width="0.2">50</text>
<line x1="467.80" y1="418.30" x2="467.80" y2="415.80" stroke="#d8d8d8" stroke-width="0.8"/>
<line x1="467.80" y1="243.60" x2="467.80" y2="246.10" stroke="#d8d8d8" stroke-width="0.8"/>
<text transform="translate(467.80,429.30) scale(1.0,0.92)" font-size="10.0" font-weight="bold" text-anchor="middle" stroke="#111" stroke-width="0.2">100</text>
<line x1="531.05" y1="418.30" x2="531.05" y2="415.80" stroke="#d8d8d8" stroke-width="0.8"/>
<line x1="531.05" y1="243.60" x2="531.05" y2="246.10" stroke="#d8d8d8" stroke-width="0.8"/>
<text transform="translate(531.05,429.30) scale(1.0,0.92)" font-size="10.0" font-weight="bold" text-anchor="middle" stroke="#111" stroke-width="0.2">150</text>
<line x1="594.30" y1="418.30" x2="594.30" y2="415.80" stroke="#d8d8d8" stroke-width="0.8"/>
<line x1="594.30" y1="243.60" x2="594.30" y2="246.10" stroke="#d8d8d8" stroke-width="0.8"/>
<text transform="translate(594.30,429.30) scale(1.0,0.92)" font-size="10.0" font-weight="bold" text-anchor="middle" stroke="#111" stroke-width="0.2">200</text>
<line x1="341.30" y1="418.30" x2="343.80" y2="418.30" stroke="#d8d8d8" stroke-width="0.8"/>
<line x1="594.30" y1="418.30" x2="591.80" y2="418.30" stroke="#d8d8d8" stroke-width="0.8"/>
<text transform="translate(337.90,422.00) scale(1.0,0.92)" font-size="10.0" font-weight="bold" text-anchor="end" stroke="#111" stroke-width="0.2">0</text>
<line x1="341.30" y1="389.18" x2="343.80" y2="389.18" stroke="#d8d8d8" stroke-width="0.8"/>
<line x1="594.30" y1="389.18" x2="591.80" y2="389.18" stroke="#d8d8d8" stroke-width="0.8"/>
<text transform="translate(337.90,392.88) scale(1.0,0.92)" font-size="10.0" font-weight="bold" text-anchor="end" stroke="#111" stroke-width="0.2">10</text>
<line x1="341.30" y1="360.07" x2="343.80" y2="360.07" stroke="#d8d8d8" stroke-width="0.8"/>
<line x1="594.30" y1="360.07" x2="591.80" y2="360.07" stroke="#d8d8d8" stroke-width="0.8"/>
<text transform="translate(337.90,363.77) scale(1.0,0.92)" font-size="10.0" font-weight="bold" text-anchor="end" stroke="#111" stroke-width="0.2">20</text>
<line x1="341.30" y1="330.95" x2="343.80" y2="330.95" stroke="#d8d8d8" stroke-width="0.8"/>
<line x1="594.30" y1="330.95" x2="591.80" y2="330.95" stroke="#d8d8d8" stroke-width="0.8"/>
<text transform="translate(337.90,334.65) scale(1.0,0.92)" font-size="10.0" font-weight="bold" text-anchor="end" stroke="#111" stroke-width="0.2">30</text>
<line x1="341.30" y1="301.83" x2="343.80" y2="301.83" stroke="#d8d8d8" stroke-width="0.8"/>
<line x1="594.30" y1="301.83" x2="591.80" y2="301.83" stroke="#d8d8d8" stroke-width="0.8"/>
<text transform="translate(337.90,305.53) scale(1.0,0.92)" font-size="10.0" font-weight="bold" text-anchor="end" stroke="#111" stroke-width="0.2">40</text>
<line x1="341.30" y1="272.72" x2="343.80" y2="272.72" stroke="#d8d8d8" stroke-width="0.8"/>
<line x1="594.30" y1="272.72" x2="591.80" y2="272.72" stroke="#d8d8d8" stroke-width="0.8"/>
<text transform="translate(337.90,276.42) scale(1.0,0.92)" font-size="10.0" font-weight="bold" text-anchor="end" stroke="#111" stroke-width="0.2">50</text>
<line x1="341.30" y1="243.60" x2="343.80" y2="243.60" stroke="#d8d8d8" stroke-width="0.8"/>
<line x1="594.30" y1="243.60" x2="591.80" y2="243.60" stroke="#d8d8d8" stroke-width="0.8"/>
<text transform="translate(337.90,247.30) scale(1.0,0.92)" font-size="10.0" font-weight="bold" text-anchor="end" stroke="#111" stroke-width="0.2">60</text>
<text transform="translate(467.80,439.80) scale(0.98,0.78)" font-size="11.0" font-weight="bold" text-anchor="middle" stroke="#111" stroke-width="0.2">distance (m)</text>
<text transform="translate(322.70,331.45) scale(1.05,0.81) rotate(-90)" font-size="11.0" font-weight="normal" text-anchor="middle" stroke="#111" stroke-width="0.4">Snow Thickness (cm)</text>
<text transform="translate(347.60,234.80) scale(1.0,1.0)" font-size="10.5" font-weight="bold" text-anchor="start" stroke="#111" stroke-width="0.35">(d)</text>
<text transform="translate(591.10,253.60) scale(0.99,0.8)" font-size="10.0" font-weight="normal" text-anchor="end" stroke="#111" stroke-width="0.32">11.8 km/hr (SE)</text>
</svg>
</body></html>
